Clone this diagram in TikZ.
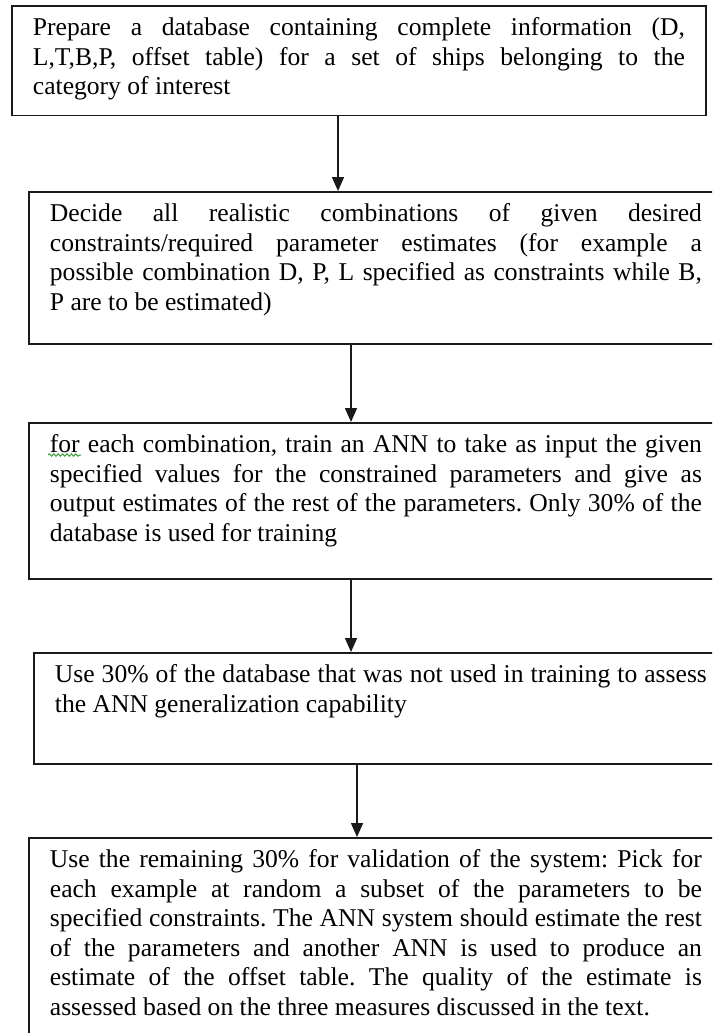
\documentclass[tikz,border=0pt]{standalone}
\usepackage{fontspec}
\setmainfont{Liberation Serif}
\usetikzlibrary{arrows.meta,decorations.pathmorphing}
\definecolor{annline}{HTML}{1A1A1A}
\definecolor{spellgreen}{HTML}{3CA03C}
\frenchspacing
\tikzset{
  >={Triangle[length=7pt,width=6pt]},
  font=\fontsize{12.8pt}{14.75pt}\selectfont,
  box/.style={draw=annline,line width=0.9pt,anchor=north west,text width=326pt,
              align=justify,inner xsep=10.5pt,inner ysep=6pt},
  pad/.style={execute at end node={\par\vspace*{#1}}},
  flow/.style={->,line width=0.8pt,draw=annline},
  spell/.style={draw=spellgreen,line width=0.5pt,decorate,
                decoration={snake,amplitude=0.6pt,segment length=2.2pt}},
}

\begin{document}
\begin{tikzpicture}[x=0.5pt,y=-0.5pt]
  % page is the 712x1033 screenshot; the lower boxes run past its right edge
  \useasboundingbox (0,0) rectangle (712,1033);
  \clip (0,0) rectangle (712,1033);

  \node[box,pad=1.5pt] (prep) at (11,5)
    {Prepare a database containing complete information (D,\linebreak
     L,T,B,P, offset table) for a set of ships belonging to the\linebreak
     category of interest};
  \node[box,pad=8pt] (decide) at (28,191)
    {Decide all realistic combinations of given desired\linebreak
     constraints/required parameter estimates (for example a\linebreak
     possible combination D, P, L specified as constraints while B,\linebreak
     P are to be estimated)};
  \node[box,pad=10pt] (train) at (28,422)
    {for each combination, train an ANN to take as input the given\linebreak
     specified values for the constrained parameters and give as\linebreak
     output estimates of the rest of the parameters. Only 30\% of the\linebreak
     database is used for training};
  \node[box,pad=17pt] (assess) at (33,652)
    {Use 30\% of the database that was not used in training to assess\linebreak
     the ANN generalization capability};
  \node[box,pad=18pt] (valid) at (28,837)
    {Use the remaining 30\% for validation of the system: Pick for\linebreak
     each example at random a subset of the parameters to be\linebreak
     specified constraints. The ANN system should estimate the rest\linebreak
     of the parameters and another ANN is used to produce an\linebreak
     estimate of the offset table. The quality of the estimate is\linebreak
     assessed based on the three measures discussed in the text.};

  % arrows sit off-centre, as in the original
  \draw[flow] ([xshift=163.5pt]prep.south west) -- ([xshift=155pt]decide.north west);
  \draw[flow] ([xshift=161.5pt]decide.south west) -- ([xshift=161.5pt]train.north west);
  \draw[flow] ([xshift=161.5pt]train.south west) -- ([xshift=159pt]assess.north west);
  \draw[flow] ([xshift=162pt]assess.south west) -- ([xshift=164.5pt]valid.north west);

  % grammar-check squiggle under the first word
  \draw[spell] ([xshift=10pt,yshift=-16.5pt]train.north west) -- ++(33,0);
\end{tikzpicture}
\end{document}
